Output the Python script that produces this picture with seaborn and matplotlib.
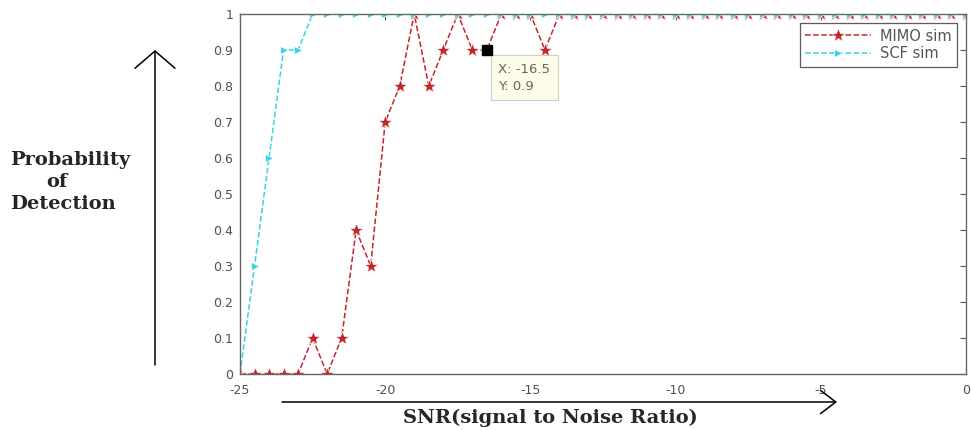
import pandas as pd
import matplotlib
matplotlib.use("Agg")
import matplotlib.pyplot as plt
from matplotlib.patches import FancyArrowPatch
import seaborn as sns

# SNR grid (dB) and detection probabilities
snr = [-25, -24.5, -24, -23.5, -23, -22.5, -22, -21.5, -21, -20.5,
       -20, -19.5, -19, -18.5, -18, -17.5, -17, -16.5, -16, -15.5,
       -15, -14.5, -14, -13.5, -13, -12.5, -12, -11.5, -11, -10.5,
       -10, -9.5, -9, -8.5, -8, -7.5, -7, -6.5, -6, -5.5,
       -5, -4.5, -4, -3.5, -3, -2.5, -2, -1.5, -1, -0.5, 0]

mimo_pd = [0, 0, 0, 0, 0, 0.1, 0, 0.1, 0.4, 0.3,
           0.7, 0.8, 1, 0.8, 0.9, 1, 0.9, 0.9, 1, 1,
           1, 0.9, 1, 1, 1, 1, 1, 1, 1, 1,
           1, 1, 1, 1, 1, 1, 1, 1, 1, 1,
           1, 1, 1, 1, 1, 1, 1, 1, 1, 1, 1]

scf_pd = [0, 0.3, 0.6, 0.9, 0.9, 1, 1, 1, 1, 1,
          1, 1, 1, 1, 1, 1, 1, 1, 1, 1,
          1, 1, 1, 1, 1, 1, 1, 1, 1, 1,
          1, 1, 1, 1, 1, 1, 1, 1, 1, 1,
          1, 1, 1, 1, 1, 1, 1, 1, 1, 1, 1]

series_names = ["MIMO sim", "SCF sim"]
xticks = [-25, -20, -15, -10, -5, 0]
xtick_labels = ["-25", "-20", "-15", "-10", "-5", "0"]
yticks = [0, 0.1, 0.2, 0.3, 0.4, 0.5, 0.6, 0.7, 0.8, 0.9, 1]
ytick_labels = ["0", "0.1", "0.2", "0.3", "0.4", "0.5", "0.6", "0.7", "0.8", "0.9", "1"]

# data tip
tip_x = -16.5
tip_y = 0.9

df = pd.DataFrame({"SNR": snr, "MIMO sim": mimo_pd, "SCF sim": scf_pd})

sns.set_style("white")
plt.rcParams["font.family"] = ["DejaVu Sans"]

W, H = 971, 430
fig = plt.figure(figsize=(W / 100, H / 100), dpi=100)
ax = fig.add_axes([240 / W, 1 - 374 / H, (966 - 240) / W, (374 - 14) / H])

sns.lineplot(data=df, x="SNR", y="MIMO sim", ax=ax, color="#c4262e", linestyle="--",
             marker="*", markersize=10, markeredgewidth=0.5, linewidth=1.1, label=series_names[0])
sns.lineplot(data=df, x="SNR", y="SCF sim", ax=ax, color="#3dd3dc", linestyle="--",
             marker=">", markersize=6, markeredgewidth=0.5, linewidth=1.1, label=series_names[1])

ax.set_xlim(-25, 0)
ax.set_ylim(0, 1)
ax.set_xticks(xticks)
ax.set_xticklabels(xtick_labels)
ax.set_yticks(yticks)
ax.set_yticklabels(ytick_labels)
ax.set_xlabel("")
ax.set_ylabel("")
ax.tick_params(direction="in", length=4, width=0.8, top=True, right=True,
               labelsize=9, labelcolor="#505050", color="#555555")
ax.tick_params(axis="x", pad=7)
ax.tick_params(axis="y", pad=5)
for s in ax.spines.values():
    s.set_color("#666666")
    s.set_linewidth(1.0)

leg = ax.legend(loc="upper right", fontsize=10.5, handlelength=4.5, frameon=True,
                fancybox=False, borderaxespad=0.6, borderpad=0.4, labelspacing=0.2,
                handletextpad=0.6)
leg.get_frame().set_edgecolor("#333333")
leg.get_frame().set_linewidth(0.9)
for t in leg.get_texts():
    t.set_color("#555555")

# data tip marker and box
ax.plot([tip_x], [tip_y], marker="s", color="black", markersize=7, linestyle="none", zorder=5)
ax.text(tip_x + 0.4, tip_y - 0.035, f"X: {tip_x}\nY: {tip_y}", fontsize=9.5, color="#666666",
        va="top", ha="left", linespacing=1.4,
        bbox=dict(boxstyle="square,pad=0.55", facecolor="#fcfce8", edgecolor="#cfcfc0", linewidth=0.8))

# hand-drawn style labels and arrows
serif = ["DejaVu Serif"]
fig.text(10 / W, 1 - 160 / H, "Probability", fontsize=14, fontweight="bold", family=serif,
         va="center", ha="left")
fig.text(46 / W, 1 - 182 / H, "of", fontsize=14, fontweight="bold", family=serif,
         va="center", ha="left")
fig.text(10 / W, 1 - 204 / H, "Detection", fontsize=14, fontweight="bold", family=serif,
         va="center", ha="left")
fig.text(550 / W, 1 - 418 / H, "SNR(signal to Noise Ratio)", fontsize=14, fontweight="bold",
         family=serif, va="center", ha="center")

fig.add_artist(FancyArrowPatch((155 / W, 1 - 365 / H), (155 / W, 1 - 50 / H),
                               transform=fig.transFigure, mutation_scale=20,
                               arrowstyle="->,head_length=0.62,head_width=0.72",
                               color="black", lw=1.1, shrinkA=0, shrinkB=0))
fig.add_artist(FancyArrowPatch((282 / W, 1 - 402 / H), (837 / W, 1 - 402 / H),
                               transform=fig.transFigure, mutation_scale=20,
                               arrowstyle="->,head_length=0.55,head_width=0.42",
                               color="black", lw=1.1, shrinkA=0, shrinkB=0))

fig.savefig("out.png", dpi=100, facecolor="white")
